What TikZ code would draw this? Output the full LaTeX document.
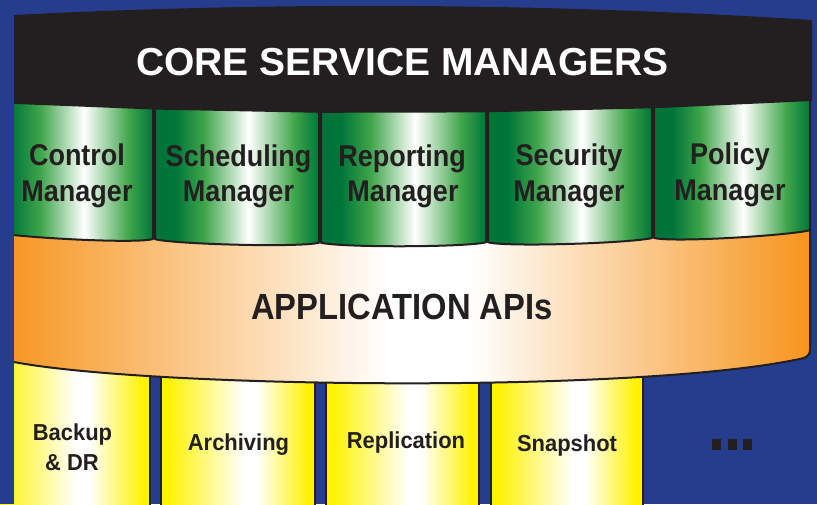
\documentclass[tikz,border=0pt]{standalone}
\usepackage{fontspec}
\setmainfont{Liberation Sans}
\newfontfamily\narrowA[FakeStretch=0.9]{Liberation Sans}
\newfontfamily\narrowB[FakeStretch=0.95]{Liberation Sans}
\definecolor{bgblue}{RGB}{37,61,140}
\definecolor{ink}{RGB}{35,31,32}
\definecolor{gD}{RGB}{0,117,58}
\definecolor{gM}{RGB}{63,165,74}
\definecolor{orA}{RGB}{247,148,29}
\definecolor{yeA}{RGB}{255,242,0}
\pgfdeclarehorizontalshading{greentile}{100bp}{color(0bp)=(gD); color(25bp)=(gD); color(31bp)=(gD); color(40bp)=(gM); color(53.5bp)=(white); color(67.5bp)=(gM); color(75bp)=(gD); color(100bp)=(gD)}
\pgfdeclarehorizontalshading{yellowtile}{100bp}{color(0bp)=(yeA); color(25bp)=(yeA); color(27bp)=(yeA); color(52bp)=(white); color(56bp)=(white); color(73bp)=(yeA); color(75bp)=(yeA); color(100bp)=(yeA)}
\pgfdeclarehorizontalshading{orangeband}{100bp}{color(0bp)=(orA); color(25bp)=(orA); color(49bp)=(white); color(54bp)=(white); color(75bp)=(orA); color(100bp)=(orA)}
\tikzset{
  tileline/.style={draw=ink, line width=2pt, line join=round},
  titletext/.style={font=\bfseries\fontsize{39}{46}\selectfont, text=white, anchor=base, inner sep=0pt},
  mgrlabel/.style={font=\narrowA\bfseries\fontsize{30}{36}\selectfont, text=ink, anchor=base, inner sep=0pt},
  apitext/.style={font=\narrowA\bfseries\fontsize{36.4}{44}\selectfont, text=ink, anchor=base, inner sep=0pt},
  applabel/.style={font=\narrowB\bfseries\fontsize{23.1}{28}\selectfont, text=ink, anchor=base, inner sep=0pt},
  dotsq/.style={fill=ink, draw=none, minimum width=9pt, minimum height=11pt, inner sep=0pt},
}
\begin{document}
\begin{tikzpicture}[x=1pt,y=-1pt]
\fill[bgblue] (0,0) rectangle (817,504);
\useasboundingbox (0,0) rectangle (817,504);
\clip (0,0) rectangle (817,504);
% yellow application tiles
\foreach \xl/\xr in {-10/150, 161/315, 326/479, 490.5/642.5}
  \shadedraw[shading=yellowtile, tileline] (\xl,340) rectangle (\xr,515);
% black core band
\fill[ink] (0,15) -- (14,15) .. controls (280,1.33) and (546,3) .. (812,20)
  -- (812,100) -- (810,104) -- (810,160) -- (0,160) -- cycle;
% orange API band
\shade[shading=orangeband] (0,200) -- (810,200) -- (810,350)
  .. controls (810,354) and (808,356.5) .. (803,358.3)
  .. controls (640,394) and (150,388) .. (14,362) -- (0,359) -- cycle;
\draw[tileline] (810,200) -- (810,350)
  .. controls (810,354) and (808,356.5) .. (803,358.3)
  .. controls (640,394) and (150,388) .. (14,362) -- (0,359);
% green manager tiles
\foreach \xl/\xr/\ytl/\ytr/\ybl/\ybr in {
   -8/153/102.0/108.5/232.0/239.1,
   155/319/108.6/111.8/239.2/242.7,
   321/486/111.8/111.4/242.7/242.3,
   488/652/111.3/107.3/242.3/238.0,
   654/810/107.3/100.1/237.9/230.2}
  \shadedraw[shading=greentile, tileline] (\xl,\ytl) -- (\xr,\ytr) -- (\xr,\ybr)
    .. controls ({\xr-0.12*(\xr-\xl)},{\ybr+5}) and ({\xl+0.12*(\xr-\xl)},{\ybl+5}) .. (\xl,\ybl) -- cycle;
% left crop strip
\fill[bgblue] (0,0) rectangle (14,504);
% texts
\node[titletext] (title) at (402.5,75) {CORE SERVICE MANAGERS};
\node[mgrlabel] (m1a) at (77,165.5) {Control};
\node[mgrlabel] (m1b) at (77,201.5) {Manager};
\node[mgrlabel] (m2a) at (238.5,166) {Scheduling};
\node[mgrlabel] (m2b) at (238.5,201.5) {Manager};
\node[mgrlabel] (m3a) at (402,166.5) {Reporting};
\node[mgrlabel] (m3b) at (403,201.5) {Manager};
\node[mgrlabel] (m4a) at (569,165) {Security};
\node[mgrlabel] (m4b) at (569,201) {Manager};
\node[mgrlabel] (m5a) at (730,164.5) {Policy};
\node[mgrlabel] (m5b) at (730,200.5) {Manager};
\node[apitext] (api) at (402,319) {APPLICATION APIs};
\node[applabel] (y1a) at (72.5,440.5) {Backup};
\node[applabel] (y1b) at (72,470) {\& DR};
\node[applabel] (y2) at (238.5,450.5) {Archiving};
\node[applabel] (y3) at (406,448) {Replication};
\node[applabel] (y4) at (567,451) {Snapshot};
\node[dotsq] (d1) at (716.5,444.5) {};
\node[dotsq] (d2) at (732.5,444.5) {};
\node[dotsq] (d3) at (747.5,444.5) {};
\end{tikzpicture}
\end{document}
